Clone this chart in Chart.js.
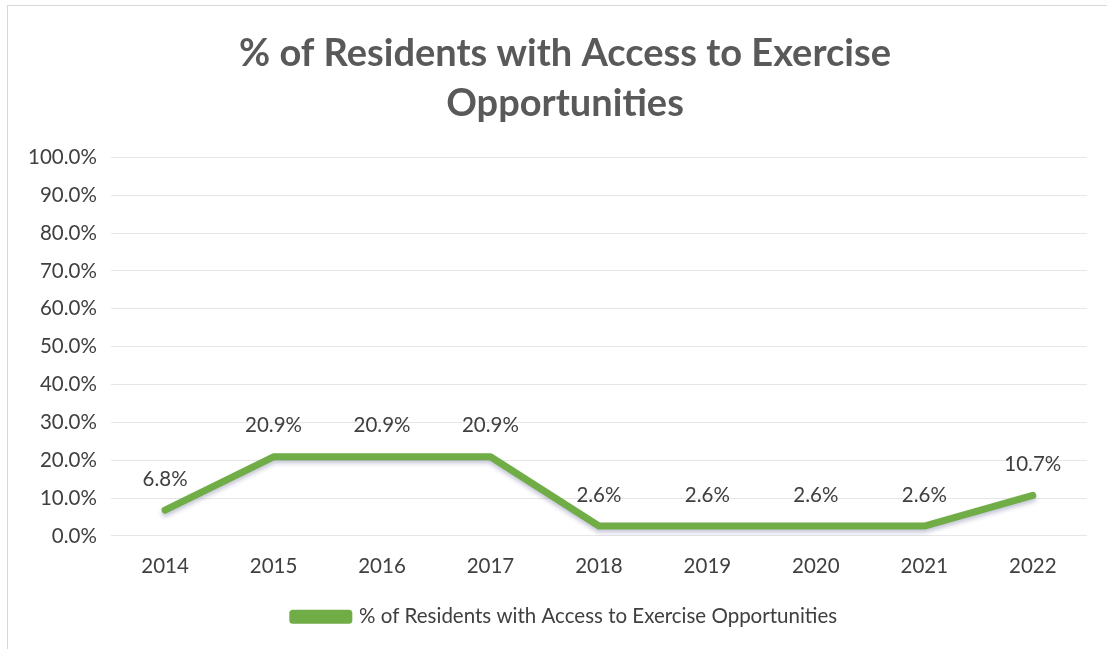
<!DOCTYPE html>
<html>
<head>
<meta charset="utf-8">
<title>% of Residents with Access to Exercise Opportunities</title>
<script src="https://cdn.jsdelivr.net/npm/chart.js@4/dist/chart.umd.min.js"></script>
<style>
  html, body { margin: 0; padding: 0; background: #fff; overflow: hidden; }
  #wrap { position: relative; width: 1130px; height: 649px; }
  #frame { position: absolute; left: 7px; top: 5px; right: 0; bottom: -2px; border: 1px solid #d9d9d9; }
</style>
</head>
<body>
<div id="wrap">
  <div id="frame"></div>
  <canvas id="myChart" width="1130" height="649"></canvas>
</div>
<script>
var years = ['2014', '2015', '2016', '2017', '2018', '2019', '2020', '2021', '2022'];
var access = [6.8, 20.9, 20.9, 20.9, 2.6, 2.6, 2.6, 2.6, 10.7];
var seriesName = '% of Residents with Access to Exercise Opportunities';
var titleLines = ['% of Residents with Access to Exercise', 'Opportunities'];

var textFont = { family: 'Lato', size: 20.5 };

// value labels above each point
var pointLabels = {
  id: 'pointLabels',
  afterDatasetsDraw: function (chart) {
    var ctx = chart.ctx;
    var meta = chart.getDatasetMeta(0);
    ctx.save();
    ctx.font = '20.5px Lato';
    ctx.fillStyle = '#404040';
    ctx.textAlign = 'center';
    ctx.textBaseline = 'middle';
    meta.data.forEach(function (pt, i) {
      ctx.fillText(access[i].toFixed(1) + '%', pt.x, pt.y - 31);
    });
    ctx.restore();
  }
};

// soft shadow under the line
var lineShadow = {
  id: 'lineShadow',
  beforeDatasetDraw: function (chart) {
    var ctx = chart.ctx;
    ctx.save();
    ctx.shadowColor = 'rgba(90, 90, 140, 0.35)';
    ctx.shadowBlur = 4;
    ctx.shadowOffsetY = 3;
  },
  afterDatasetDraw: function (chart) {
    chart.ctx.restore();
  }
};

var ctx = document.getElementById('myChart');
var myChart = new Chart(ctx, {
  type: 'line',
  data: {
    labels: years,
    datasets: [{
      label: seriesName,
      data: access,
      borderColor: '#70ad47',
      backgroundColor: '#70ad47',
      borderWidth: 7,
      pointRadius: 0,
      borderCapStyle: 'round',
      borderJoinStyle: 'round',
      tension: 0
    }]
  },
  options: {
    responsive: false,
    animation: false,
    layout: { padding: { left: 14, right: 14, top: 2, bottom: 12 } },
    plugins: {
      title: {
        display: true,
        text: titleLines,
        color: '#595959',
        font: { family: 'Lato', size: 38, weight: 'bold', lineHeight: 1.32 },
        padding: { top: 27, bottom: 28 }
      },
      legend: {
        position: 'bottom',
        labels: {
          color: '#404040',
          font: textFont,
          boxWidth: 56,
          boxHeight: 7,
          padding: 18
        }
      },
      tooltip: { enabled: false }
    },
    scales: {
      x: {
        offset: true,
        grid: { display: false },
        border: { display: false },
        ticks: { color: '#404040', font: textFont, padding: 10 }
      },
      y: {
        min: 0,
        max: 100,
        ticks: {
          stepSize: 10,
          color: '#404040',
          font: textFont,
          padding: 14,
          callback: function (v) { return v.toFixed(1) + '%'; }
        },
        grid: { color: '#e6e6e6', drawTicks: false },
        border: { display: false }
      },
      // empty right-hand margin so the plot ends short of the frame
      yRight: {
        type: 'linear',
        position: 'right',
        min: 0,
        max: 100,
        grid: { display: false },
        border: { display: false },
        ticks: { display: false },
        afterFit: function (scale) { scale.width = 29; }
      }
    }
  },
  plugins: [pointLabels, lineShadow]
});
</script>
</body>
</html>
